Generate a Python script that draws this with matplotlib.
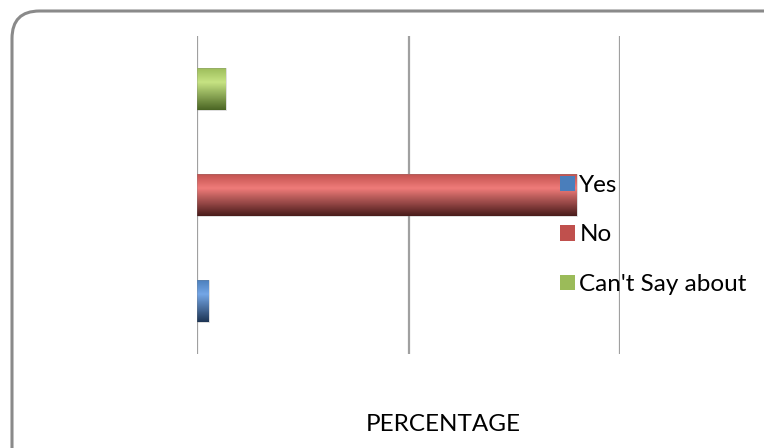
import numpy as np
import matplotlib
matplotlib.use("Agg")
import matplotlib.pyplot as plt
from matplotlib.patches import FancyBboxPatch, Patch
from matplotlib.colors import LinearSegmentedColormap, to_rgb

# ---- data ----
series = ["Yes", "No", "Can't Say about"]
values = [2.8, 89.8, 6.8]
axis_label = "PERCENTAGE"
grid_ticks = [0, 50, 100]

base_colors = ["#4a7ebb", "#c0504d", "#9bbb59"]
light_colors = ["#74a6e6", "#ef7b79", "#c6e383"]
dark_colors = ["#1e3655", "#4a1c1b", "#4b6624"]

plt.rcParams['font.family'] = ['Lato', 'DejaVu Sans']

fig = plt.figure(figsize=(7.64, 4.48), dpi=100)
fig.patch.set_facecolor("white")

# rounded border
border = FancyBboxPatch((12/764, -40/448), 800/764, (448-11+40)/448,
                        boxstyle="round,pad=0,rounding_size=0.036",
                        transform=fig.transFigure, fill=False,
                        edgecolor="#8a8a8a", linewidth=2.2, mutation_aspect=764/448)
fig.patches.append(border)

ax = fig.add_axes([197/764, (448-354)/448, 423/764, 318/448])
ax.set_xlim(0, 100)
ax.set_ylim(-0.5, 2.5)
for s in ax.spines.values():
    s.set_visible(False)
ax.set_xticks(grid_ticks)
ax.set_yticks([])
ax.tick_params(axis='x', length=0, labelbottom=False)
ax.grid(axis='x', color="#a0a0a0", linewidth=1.6)
ax.set_axisbelow(True)

positions = np.arange(len(series))
bars = ax.barh(positions, values, height=0.4, color=base_colors, zorder=2)

n = 64
t = np.linspace(0, 1, n)
for patch, bc, lc, dc in zip(bars.patches, base_colors, light_colors, dark_colors):
    cmap = LinearSegmentedColormap.from_list(
        "g", [(0.0, to_rgb(bc)), (0.35, to_rgb(lc)), (1.0, to_rgb(dc))])
    img = cmap(t)[:, None, :]
    x0, y0 = patch.get_x(), patch.get_y()
    w, h = patch.get_width(), patch.get_height()
    im = ax.imshow(img, extent=[x0, x0 + w, y0, y0 + h], origin='upper',
                   aspect='auto', zorder=3, interpolation='bilinear')
    im.set_clip_path(patch)
    patch.set_facecolor("none")
    patch.set_edgecolor((0.5, 0.5, 0.5, 0.3))
    patch.set_linewidth(0.6)
    patch.set_zorder(4)

handles = [Patch(facecolor=c, edgecolor='none') for c in base_colors]
fig.legend(handles, series, loc='upper left',
           bbox_to_anchor=(560/764, 1 - 175/448), frameon=False,
           fontsize=17.5, handlelength=0.6, handleheight=0.6,
           handletextpad=0.2, labelspacing=1.17, borderaxespad=0,
           borderpad=0)

fig.text(443/764, 1 - 424/448, axis_label, ha='center', va='center',
         fontsize=17.5, color="black")

fig.savefig("out.png", dpi=100)
